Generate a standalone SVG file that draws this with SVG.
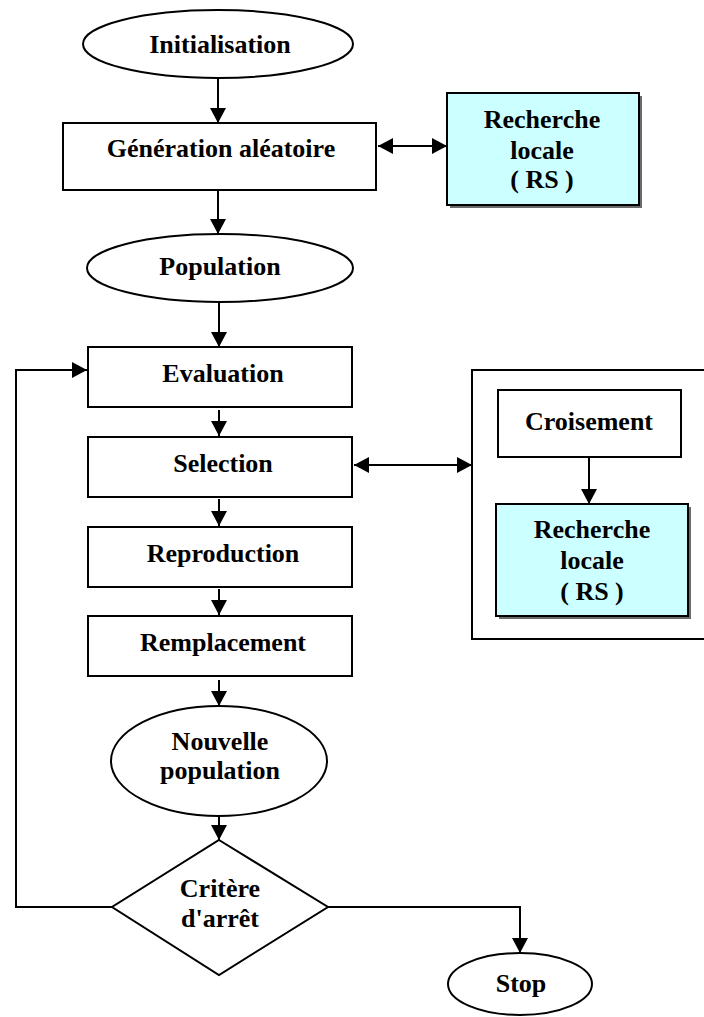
<svg xmlns="http://www.w3.org/2000/svg" width="704" height="1017" viewBox="0 0 704 1017">
  <style>
    .shape { fill: #ffffff; stroke: #000000; stroke-width: 2; }
    .frame { fill: none; stroke: #000000; stroke-width: 2; }
    .rs { fill: #ccffff; stroke: #000000; stroke-width: 2; }
    .shadow { fill: #6b6b6b; stroke: none; }
    .lbl { font-family: "Liberation Serif", "Times New Roman", serif; font-weight: bold; font-size: 26px; fill: #000000; text-anchor: middle; }
    .conn { fill: none; stroke: #000000; stroke-width: 2; }
  </style>
  <defs>
    <marker id="arrow" viewBox="0 0 15 16" refX="15" refY="8" markerWidth="15" markerHeight="16" markerUnits="userSpaceOnUse" orient="auto-start-reverse">
      <path d="M0,0 L15,8 L0,16 Z" fill="#000000"/>
    </marker>
  </defs>

  <rect width="704" height="1017" fill="#ffffff"/>

  <!-- outer frame around the crossover / local-search block -->
  <g id="operateurs">
    <rect class="frame" x="472" y="370" width="240" height="269"/>
  </g>

  <!-- connectors -->
  <g id="connectors">
    <line class="conn" x1="218" y1="78" x2="218" y2="123" marker-end="url(#arrow)"/>
    <line class="conn" x1="378" y1="146" x2="447" y2="146" marker-start="url(#arrow)" marker-end="url(#arrow)"/>
    <line class="conn" x1="218" y1="190" x2="218" y2="234" marker-end="url(#arrow)"/>
    <line class="conn" x1="219" y1="303" x2="219" y2="347" marker-end="url(#arrow)"/>
    <line class="conn" x1="219" y1="410" x2="219" y2="436" marker-end="url(#arrow)"/>
    <line class="conn" x1="354" y1="465" x2="472" y2="465" marker-start="url(#arrow)" marker-end="url(#arrow)"/>
    <line class="conn" x1="589" y1="457" x2="589" y2="504" marker-end="url(#arrow)"/>
    <line class="conn" x1="219" y1="499" x2="219" y2="526" marker-end="url(#arrow)"/>
    <line class="conn" x1="219" y1="589" x2="219" y2="615" marker-end="url(#arrow)"/>
    <line class="conn" x1="219" y1="680" x2="219" y2="706" marker-end="url(#arrow)"/>
    <line class="conn" x1="219" y1="817" x2="219" y2="840" marker-end="url(#arrow)"/>
    <polyline class="conn" points="112,907 16,907 16,370 87,370" marker-end="url(#arrow)"/>
    <polyline class="conn" points="328,907 520,907 520,953" marker-end="url(#arrow)"/>
  </g>

  <g id="initialisation">
    <ellipse class="shape" cx="218" cy="44" rx="135" ry="34"/>
    <text class="lbl" x="220" y="53">Initialisation</text>
  </g>

  <g id="generation">
    <rect class="shape" x="63" y="123" width="313" height="67"/>
    <text class="lbl" x="221" y="157">Génération aléatoire</text>
  </g>

  <g id="recherche-locale-1">
    <rect class="shadow" x="450" y="96" width="192" height="112"/>
    <rect class="rs" x="447" y="93" width="192" height="112"/>
    <text class="lbl" x="542" y="128">Recherche</text>
    <text class="lbl" x="542" y="159">locale</text>
    <text class="lbl" x="542" y="188">( RS )</text>
  </g>

  <g id="population">
    <ellipse class="shape" cx="220" cy="268" rx="133" ry="34"/>
    <text class="lbl" x="220" y="275">Population</text>
  </g>

  <g id="evaluation">
    <rect class="shape" x="88" y="347" width="264" height="60"/>
    <text class="lbl" x="223" y="382">Evaluation</text>
  </g>

  <g id="selection">
    <rect class="shape" x="88" y="437" width="264" height="60"/>
    <text class="lbl" x="223" y="472">Selection</text>
  </g>

  <g id="reproduction">
    <rect class="shape" x="88" y="527" width="264" height="60"/>
    <text class="lbl" x="223" y="562">Reproduction</text>
  </g>

  <g id="remplacement">
    <rect class="shape" x="88" y="616" width="264" height="60"/>
    <text class="lbl" x="223" y="651">Remplacement</text>
  </g>

  <g id="croisement">
    <rect class="shape" x="498" y="390" width="183" height="67"/>
    <text class="lbl" x="589" y="430">Croisement</text>
  </g>

  <g id="recherche-locale-2">
    <rect class="shadow" x="499" y="507" width="192" height="112"/>
    <rect class="rs" x="496" y="504" width="192" height="112"/>
    <text class="lbl" x="592" y="538">Recherche</text>
    <text class="lbl" x="592" y="569">locale</text>
    <text class="lbl" x="592" y="600">( RS )</text>
  </g>

  <g id="nouvelle-population">
    <ellipse class="shape" cx="219" cy="761" rx="108" ry="55"/>
    <text class="lbl" x="220" y="750">Nouvelle</text>
    <text class="lbl" x="220" y="779">population</text>
  </g>

  <g id="critere-arret">
    <polygon class="shape" points="219,840 328,907 219,975 112,907"/>
    <text class="lbl" x="220" y="897">Critère</text>
    <text class="lbl" x="220" y="927">d'arrêt</text>
  </g>

  <g id="stop">
    <ellipse class="shape" cx="520" cy="984" rx="72" ry="31"/>
    <text class="lbl" x="521" y="992">Stop</text>
  </g>
</svg>
